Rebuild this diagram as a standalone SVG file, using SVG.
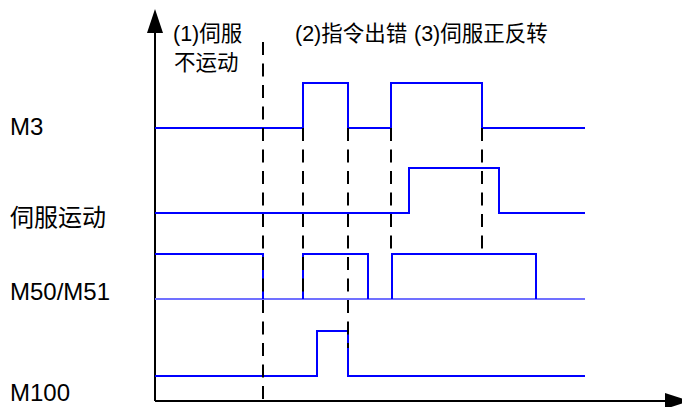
<svg xmlns="http://www.w3.org/2000/svg" width="682" height="407" viewBox="0 0 682 407">
<style>
.sig{fill:none;stroke:#0000ff;stroke-width:2}
.base{fill:none;stroke:#7070ff;stroke-width:2}
.dash{fill:none;stroke:#000;stroke-width:2;stroke-dasharray:13 8.5}
.axis{fill:none;stroke:#000;stroke-width:2}
.lbl{font-family:"Liberation Sans","Noto Sans CJK SC",sans-serif;font-size:24px;fill:#000}
.top{font-family:"Liberation Sans","Noto Sans CJK SC",sans-serif;font-size:21.5px;fill:#000}
</style>
<rect width="682" height="407" fill="#fff"/>
<g id="axes">
<line class="axis" x1="155" y1="401" x2="155" y2="30"/>
<polygon points="155,9 147,33 163,33" fill="#000"/>
<line class="axis" x1="155" y1="401" x2="668" y2="401"/>
<polygon points="690,401 665,393 665,409" fill="#000"/>
</g>
<g id="signals">
<polyline id="m3" class="sig" points="155,128 303,128 303,83 348,83 348,128 391,128 391,83 482,83 482,128 585,128"/>
<polyline id="servo" class="sig" points="155,213 409,213 409,168 499,168 499,213 585,213"/>
<line class="base" x1="155" y1="299" x2="585" y2="299"/>
<polyline id="m50" class="sig" points="155,254 263,254 263,299"/>
<polyline class="sig" points="303,299 303,254 368,254 368,299"/>
<polyline class="sig" points="392,299 392,254 536,254 536,299"/>
<polyline id="m100" class="sig" points="155,376 317,376 317,331 348,331 348,376 585,376"/>
</g>
<g id="dashes">
<line class="dash" x1="263" y1="42" x2="263" y2="400"/>
<line class="dash" x1="303" y1="128" x2="303" y2="299"/>
<line class="dash" x1="348" y1="128" x2="348" y2="348"/>
<line class="dash" x1="391" y1="128" x2="391" y2="251"/>
<line class="dash" x1="482" y1="128" x2="482" y2="251"/>
</g>
<g id="labels">
<text class="lbl" x="10" y="135">M3</text>
<text class="lbl" x="10" y="226">伺服运动</text>
<text class="lbl" x="10" y="300">M50/M51</text>
<text class="lbl" x="10" y="401">M100</text>
<text class="top" x="173" y="41">(1)伺服</text>
<text class="top" x="174" y="70">不运动</text>
<text class="top" x="295" y="41">(2)指令出错</text>
<text class="top" x="414" y="41">(3)伺服正反转</text>
</g>
</svg>
